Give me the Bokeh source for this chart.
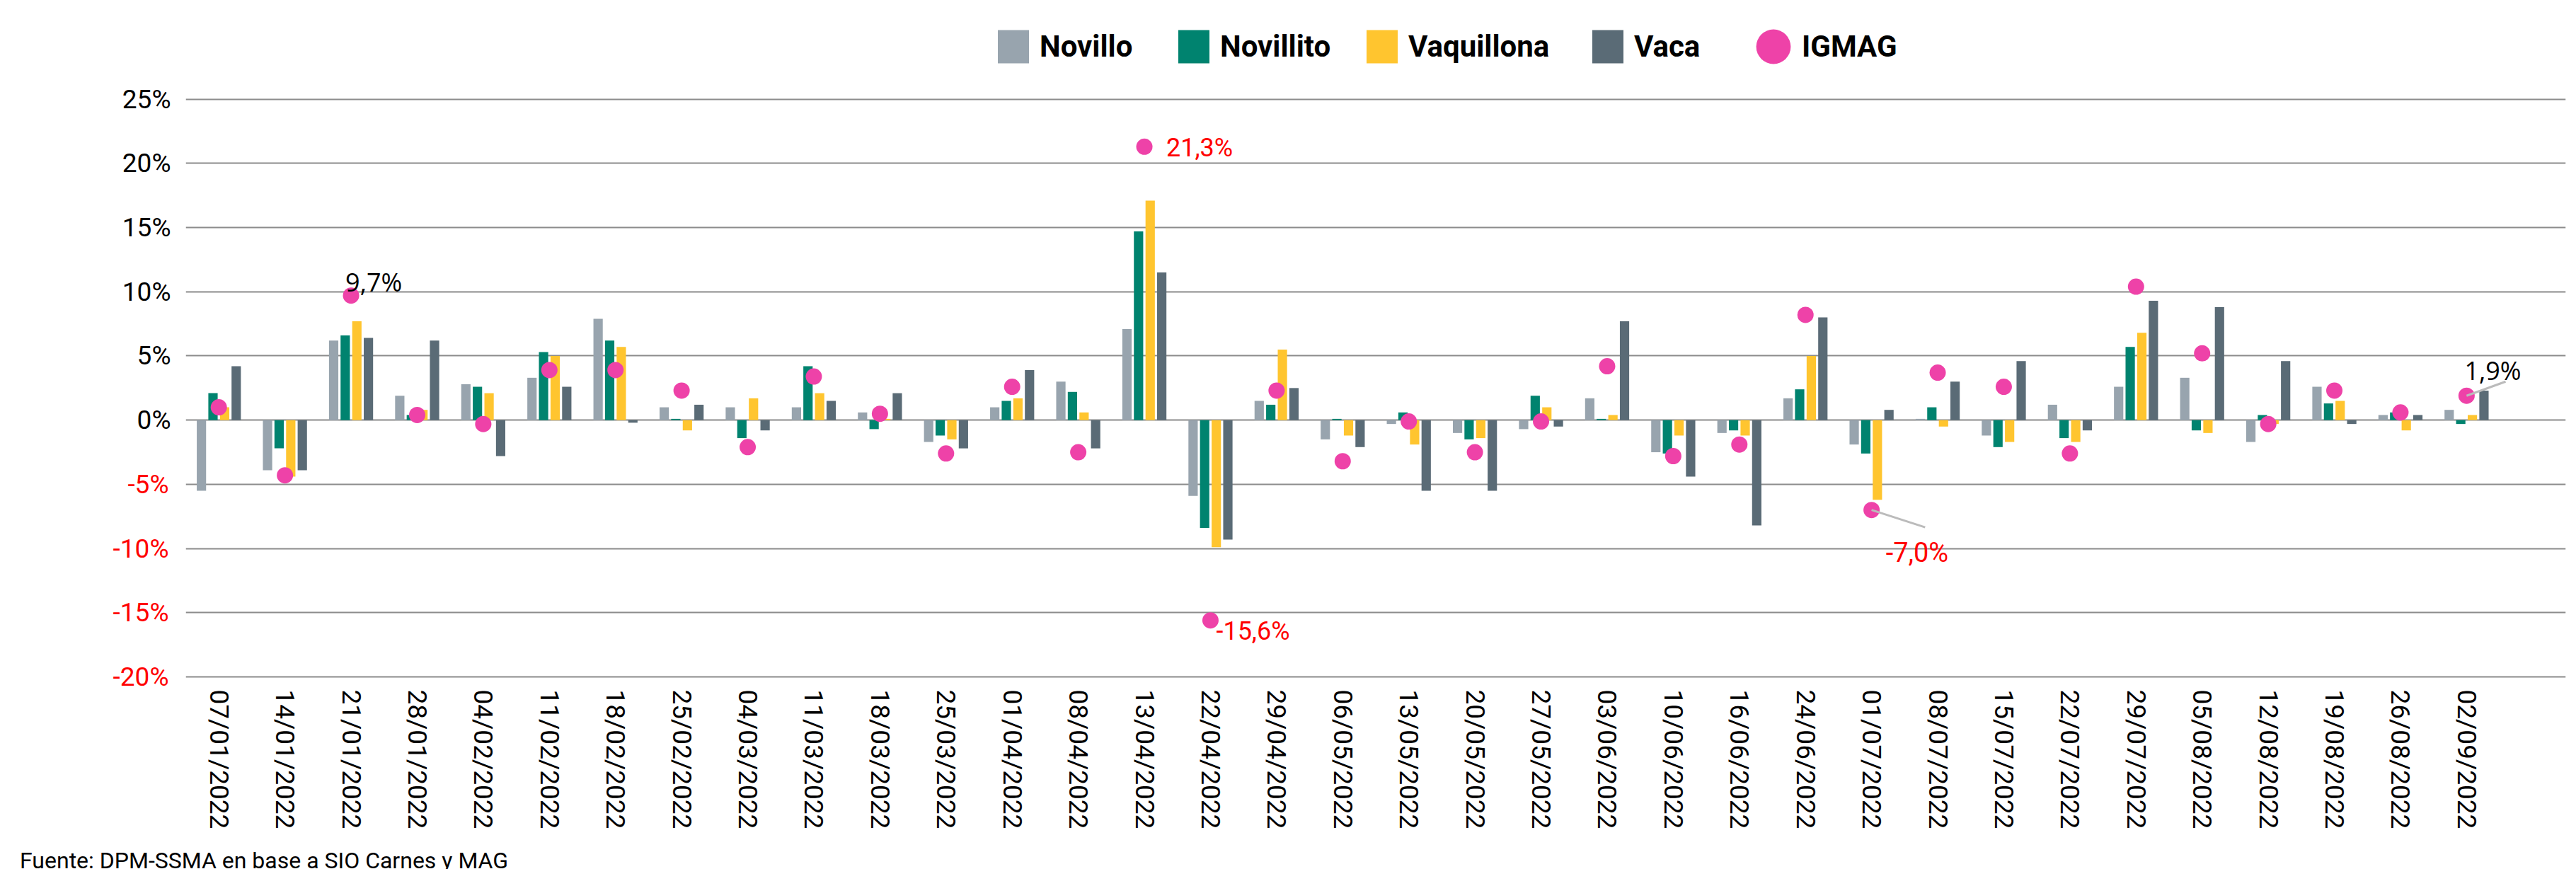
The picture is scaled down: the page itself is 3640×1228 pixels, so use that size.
from bokeh.plotting import figure
from bokeh.layouts import column
from bokeh.models import (Range1d, FixedTicker, Legend, LegendItem, Label,
                          ColumnDataSource, LinearAxis, Div)
from bokeh.transform import dodge
from bokeh.embed import file_html
from bokeh.resources import INLINE

# ---------------- data ----------------
fechas = ["07/01/2022", "14/01/2022", "21/01/2022", "28/01/2022", "04/02/2022",
          "11/02/2022", "18/02/2022", "25/02/2022", "04/03/2022", "11/03/2022",
          "18/03/2022", "25/03/2022", "01/04/2022", "08/04/2022", "13/04/2022",
          "22/04/2022", "29/04/2022", "06/05/2022", "13/05/2022", "20/05/2022",
          "27/05/2022", "03/06/2022", "10/06/2022", "16/06/2022", "24/06/2022",
          "01/07/2022", "08/07/2022", "15/07/2022", "22/07/2022", "29/07/2022",
          "05/08/2022", "12/08/2022", "19/08/2022", "26/08/2022", "02/09/2022"]

novillo = [-5.5, -3.9, 6.2, 1.9, 2.8, 3.3, 7.9, 1.0, 1.0, 1.0, 0.6, -1.7, 1.0, 3.0,
           7.1, -5.9, 1.5, -1.5, -0.3, -1.0, -0.7, 1.7, -2.5, -1.0, 1.7, -1.9, 0.1,
           -1.2, 1.2, 2.6, 3.3, -1.7, 2.6, 0.4, 0.8]
novillito = [2.1, -2.2, 6.6, 0.4, 2.6, 5.3, 6.2, 0.1, -1.4, 4.2, -0.7, -1.2, 1.5, 2.2,
             14.7, -8.4, 1.2, 0.1, 0.6, -1.5, 1.9, 0.1, -2.6, -0.8, 2.4, -2.6, 1.0,
             -2.1, -1.4, 5.7, -0.8, 0.4, 1.3, 0.6, -0.3]
vaquillona = [1.0, -4.4, 7.7, 0.8, 2.1, 5.0, 5.7, -0.8, 1.7, 2.1, 0.1, -1.5, 1.7, 0.6,
              17.1, -9.9, 5.5, -1.2, -1.9, -1.4, 1.0, 0.4, -1.2, -1.2, 5.0, -6.2, -0.5,
              -1.7, -1.7, 6.8, -1.0, -0.3, 1.5, -0.8, 0.4]
vaca = [4.2, -3.9, 6.4, 6.2, -2.8, 2.6, -0.2, 1.2, -0.8, 1.5, 2.1, -2.2, 3.9, -2.2,
        11.5, -9.3, 2.5, -2.1, -5.5, -5.5, -0.5, 7.7, -4.4, -8.2, 8.0, 0.8, 3.0,
        4.6, -0.8, 9.3, 8.8, 4.6, -0.3, 0.4, 2.3]
igmag = [1.0, -4.3, 9.7, 0.4, -0.3, 3.9, 3.9, 2.3, -2.1, 3.4, 0.5, -2.6, 2.6, -2.5,
         21.3, -15.6, 2.3, -3.2, -0.1, -2.5, -0.1, 4.2, -2.8, -1.9, 8.2, -7.0, 3.7,
         2.6, -2.6, 10.4, 5.2, -0.3, 2.3, 0.6, 1.9]

y_ticks = [-20, -15, -10, -5, 0, 5, 10, 15, 20, 25]
series_names = ["Novillo", "Novillito", "Vaquillona", "Vaca", "IGMAG"]
fuente = "Fuente: DPM-SSMA en base a SIO Carnes y MAG"

# highlighted IGMAG values: (index, text, color)
highlights = [(2, "9,7%", "#000000"), (14, "21,3%", "#FF0000"), (15, "-15,6%", "#FF0000"),
              (25, "-7,0%", "#FF0000"), (34, "1,9%", "#000000")]

# ---------------- styling ----------------
colors = ["#98A4AE", "#00836F", "#FFC52F", "#5A6B76", "#EE42A8"]
FONT = "Roboto"

src = ColumnDataSource(dict(x=list(range(len(fechas))), novillo=novillo,
                            novillito=novillito, vaquillona=vaquillona,
                            vaca=vaca, igmag=igmag))

# frame runs up to the top of the canvas so the legend can sit inside it
p = figure(width=3632, height=1196, output_backend="svg", toolbar_location=None,
           x_range=Range1d(-0.5, 35.5), y_range=Range1d(-20.33, 32.70),
           min_border_left=262, min_border_right=7, min_border_top=0,
           min_border_bottom=234)
p.outline_line_color = None
p.background_fill_color = "white"
p.xgrid.visible = False
p.ygrid.ticker = FixedTicker(ticks=y_ticks)
p.ygrid.grid_line_color = "#8C8C8C"
p.ygrid.grid_line_width = 2

bw = 0.141
offsets = [-0.263, -0.088, 0.088, 0.263]
cols = ["novillo", "novillito", "vaquillona", "vaca"]
bar_renderers = []
for c, off, col in zip(cols, offsets, colors[:4]):
    r = p.vbar(x=dodge("x", off, range=p.x_range), top=c, bottom=0, width=bw,
               source=src, fill_color=col, line_color=None)
    bar_renderers.append(r)

r_ig = p.ellipse(x="x", y="igmag", width=23, height=23, width_units="screen",
                 height_units="screen", source=src, fill_color=colors[4],
                 line_color=None)

# leader lines for two labels
lead_idx = [25, 34]
lead_dx = [0.81, 0.59]
lead_dy = [-1.35, 1.1]
p.segment(x0=[lead_idx[0], lead_idx[1]], y0=[igmag[lead_idx[0]], igmag[lead_idx[1]]],
          x1=[lead_idx[0] + lead_dx[0], lead_idx[1] + lead_dx[1]],
          y1=[igmag[lead_idx[0]] + lead_dy[0], igmag[lead_idx[1]] + lead_dy[1]],
          line_color="#BBBBBB", line_width=3)

# value labels
label_offsets = {2: (-8, 19, "Open Sans", "36px"), 14: (31, -2, FONT, "36px"),
                 15: (8, -15, FONT, "36px"), 25: (20, -60, FONT, "38px"),
                 34: (-3, 36, "Open Sans", "36px")}
for i, txt, col in highlights:
    dx, dy, fnt, fs = label_offsets[i]
    p.add_layout(Label(x=i, y=igmag[i], text=txt, x_offset=dx, y_offset=dy,
                       text_color=col, text_font=fnt, text_font_size=fs,
                       text_baseline="alphabetic", text_align="left"))

# axes
xa = p.xaxis[0]
xa.ticker = FixedTicker(ticks=list(range(len(fechas))))
xa.major_label_overrides = {i: f for i, f in enumerate(fechas)}
xa.major_label_orientation = "vertical"
xa.major_label_text_font = FONT
xa.major_label_text_font_size = "37px"
xa.major_label_text_color = "#000000"
xa.major_label_standoff = 12
xa.axis_line_color = None
xa.major_tick_line_color = None
xa.minor_tick_line_color = None
xa.major_tick_out = 0
xa.major_tick_in = 0
xa.minor_tick_out = 0
xa.minor_tick_in = 0

ya = p.yaxis[0]
ya.ticker = FixedTicker(ticks=y_ticks)
ya.major_label_overrides = {t: (f"{t}%" if t >= 0 else "") for t in y_ticks}
ya.major_label_text_font = FONT
ya.major_label_text_font_size = "37px"
ya.major_label_text_color = "#000000"
ya.major_label_standoff = 21
ya.axis_line_color = None
ya.major_tick_line_color = None
ya.minor_tick_line_color = None
ya.major_tick_out = 0
ya.major_tick_in = 0
ya.minor_tick_out = 0
ya.minor_tick_in = 0

# second (outer) y axis carrying the negative tick labels in red,
# pulled back under the first one so both columns share the same right edge
ya2 = LinearAxis(ticker=FixedTicker(ticks=y_ticks),
                 major_label_overrides={t: (f"{t}%" if t < 0 else "") for t in y_ticks},
                 major_label_text_font=FONT, major_label_text_font_size="37px",
                 major_label_text_color="#FF0000", major_label_standoff=-69,
                 axis_line_color=None, major_tick_line_color=None,
                 minor_tick_line_color=None, major_tick_out=0, major_tick_in=0,
                 minor_tick_out=0, minor_tick_in=0)
p.add_layout(ya2, "left")

# legend: one single-item legend per series, placed along the top
renderers = bar_renderers + [r_ig]
leg_x = [1142, 1397, 1663, 1982, 2213]
leg_y = [867, 867, 867, 867, 866]
leg_glyph = [(55, 59), (55, 59), (55, 59), (55, 59), (61, 61)]
for n, r, lx, ly, (gw, gh) in zip(series_names, renderers, leg_x, leg_y, leg_glyph):
    leg = Legend(items=[LegendItem(label=n, renderers=[r])],
                 orientation="horizontal", location=(lx, ly),
                 glyph_width=gw, glyph_height=gh, label_height=gh,
                 label_standoff=10, spacing=0, padding=0, margin=0,
                 border_line_color=None, background_fill_alpha=0,
                 label_text_font=FONT, label_text_font_size="42px",
                 label_text_font_style="bold", label_text_color="#000000")
    p.add_layout(leg)

# source note below the chart
note = Div(text=fuente, width=3632, height=30,
           styles={"font-family": "Roboto", "font-size": "32px",
                   "line-height": "30px", "color": "#000000",
                   "text-indent": "23px", "white-space": "nowrap"})

layout = column(p, note, spacing=0)

open("out.html", "w").write(file_html(layout, INLINE))
